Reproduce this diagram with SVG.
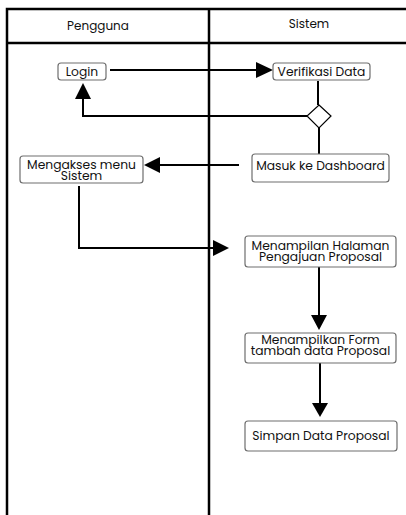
<svg xmlns="http://www.w3.org/2000/svg" width="406" height="515" viewBox="0 0 406 515">
<style>
.frame{stroke:#000;stroke-width:2.5;fill:none}
.box{fill:#fff;stroke:#6e6e6e;stroke-width:1.2}
.t{font-family:"Poppins","Open Sans","Liberation Sans",sans-serif;font-size:12.3px;fill:#111;text-anchor:middle}
.h{font-family:"Poppins","Open Sans","Liberation Sans",sans-serif;font-size:12px;fill:#111;text-anchor:middle}
.c{stroke:#000;stroke-width:2;fill:none}
</style>
<rect width="406" height="515" fill="#fff"/>
<g id="lanes">
<path class="frame" d="M7,515 V9 H406 M7,43 H406 M209,9 V515"/>
<text class="h" x="98" y="30">Pengguna</text>
<text class="h" x="309" y="28">Sistem</text>
</g>
<g id="connectors">
<path class="c" d="M110,70 H256"/>
<path d="M256,62 L273,70 L256,78 Z"/>
<path class="c" d="M318,81 V105"/>
<path class="c" d="M307,116 H83 V99"/>
<path d="M75,99 L83,83 L91,99 Z"/>
<path class="c" d="M319,128 V154"/>
<path class="c" d="M239,165 H160"/>
<path d="M160,157 L144,165 L160,173 Z"/>
<path class="c" d="M79,186 V248 H213"/>
<path d="M213,240 L229,248 L213,256 Z"/>
<path class="c" d="M319,267 V315"/>
<path d="M311,315 L319,330 L327,315 Z"/>
<path class="c" d="M320,363 V403"/>
<path d="M312,403 L320,417 L328,403 Z"/>
</g>
<g id="login">
<rect class="box" x="58" y="63" width="48" height="17" rx="3"/>
<text class="t" x="82" y="76">Login</text>
</g>
<g id="verifikasi">
<rect class="box" x="273" y="63" width="97" height="17" rx="3"/>
<text class="t" x="321.5" y="76">Verifikasi Data</text>
</g>
<g id="decision">
<path d="M319,105 L331,116 L319,128 L307,116 Z" fill="#fff" stroke="#000" stroke-width="1.2"/>
</g>
<g id="dashboard">
<rect class="box" x="252" y="154" width="137" height="28" rx="3"/>
<text class="t" x="320.5" y="169.5">Masuk ke Dashboard</text>
</g>
<g id="mengakses">
<rect class="box" x="20" y="156" width="123" height="27" rx="3"/>
<text class="t" x="81.5" y="169">Mengakses menu</text>
<text class="t" x="81.5" y="180">Sistem</text>
</g>
<g id="halaman">
<rect class="box" x="245" y="236" width="151" height="31" rx="3"/>
<text class="t" x="320.5" y="250">Menampilan Halaman</text>
<text class="t" x="320.5" y="261">Pengajuan Proposal</text>
</g>
<g id="form">
<rect class="box" x="245" y="333" width="151" height="30" rx="3"/>
<text class="t" x="320.5" y="344">Menampilkan Form</text>
<text class="t" x="320.5" y="355">tambah data Proposal</text>
</g>
<g id="simpan">
<rect class="box" x="245" y="421" width="152" height="30" rx="3"/>
<text class="t" x="321" y="440">Simpan Data Proposal</text>
</g>
</svg>
